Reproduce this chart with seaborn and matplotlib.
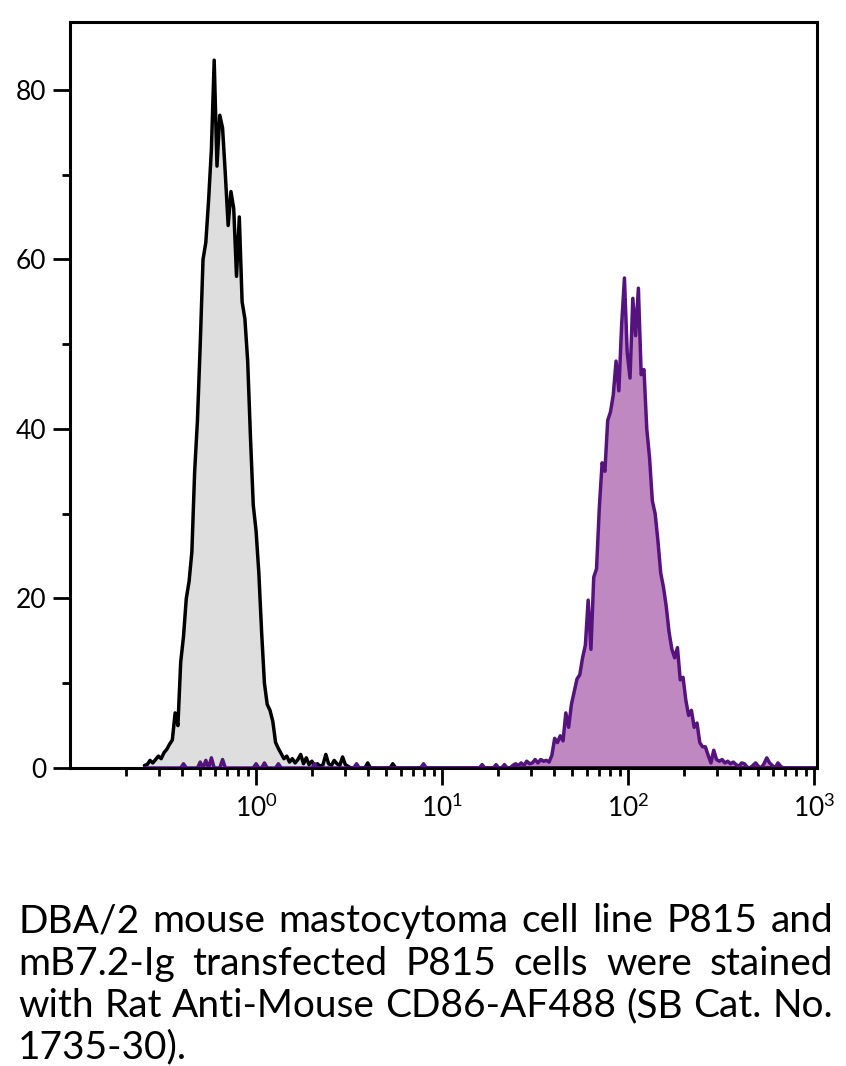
import numpy as np
import matplotlib
matplotlib.use("Agg")
import matplotlib.pyplot as plt
import matplotlib.ticker as mticker
import seaborn as sns

# --------------------------
# Data
# --------------------------

# common log10 grid of the histogram channels
grid_start = -0.60
grid_step = 0.015
grid_len = 242

# unstained / parental P815 (grey), channels from log10 = -0.60
grey_counts = [
    0.3, 0.4, 0.9, 0.6, 1.0, 1.4, 1.1, 1.8, 2.2, 2.8,
    3.3, 6.5, 5.0, 12.5, 15.5, 20.0, 22.0, 25.5, 35.0, 41.0,
    50.0, 60.0, 62.0, 67.0, 73.0, 83.5, 71.0, 77.0, 75.5, 70.0,
    64.0, 68.0, 66.0, 58.0, 65.0, 55.0, 53.0, 48.0, 39.0, 31.0,
    28.0, 23.0, 16.0, 10.0, 7.5, 6.8, 5.5, 3.0, 2.3, 1.7,
    1.1, 1.4, 0.7, 1.1, 0.6, 1.0, 1.6, 0.5, 1.2, 0.4,
    0.8, 0.3, 0.5, 0.2, 0.4, 1.6, 0.5, 0.3, 0.9, 0.5,
    0.3, 1.3, 0.4, 0.2, 0.0,
]
grey_stray = [(3.96, 0.6), (5.46, 0.5)]

# mB7.2-Ig transfected P815 (purple), channels from log10 = 1.305
purple_start = 1.305
purple_counts = [
    0.0, 0.0, 0.4, 0.0, 0.0, 0.3, 0.5, 0.3, 0.6, 0.3,
    0.8, 0.5, 0.6, 1.0, 0.6, 1.0, 0.8, 0.9, 0.7, 1.5,
    3.5, 3.0, 3.8, 3.2, 6.5, 4.8, 7.5, 9.0, 10.5, 11.0,
    13.0, 14.5, 19.8, 14.0, 22.5, 23.5, 30.7, 36.0, 35.0, 41.0,
    42.0, 44.0, 48.0, 44.5, 52.3, 57.8, 49.0, 46.0, 55.4, 51.0,
    56.6, 46.4, 47.0, 40.0, 36.6, 31.5, 30.0, 26.8, 23.0, 21.3,
    19.0, 16.0, 14.0, 13.0, 14.2, 10.4, 10.7, 8.0, 6.2, 6.8,
    4.8, 5.3, 3.0, 2.5, 2.5, 1.5, 0.6, 2.1, 1.0, 0.8,
    1.0, 0.6, 0.8, 0.5, 0.7, 0.4, 0.2, 0.6, 0.5, 0.1,
    0.0, 0.3, 0.6, 0.2, 0.0, 0.5, 1.2, 0.6, 0.3, 0.0,
    0.6, 0.2, 0.0,
]
purple_stray = [
    (0.41, 0.5), (0.50, 0.7), (0.54, 0.9), (0.57, 1.2), (0.65, 1.0),
    (1.00, 0.5), (1.12, 0.6), (1.30, 0.5), (2.08, 0.5), (3.42, 0.5),
    (7.9, 0.5), (16.4, 0.4), (19.2, 0.4),
]

x_major = [1, 10, 100, 1000]
y_major = [0, 20, 40, 60, 80]

caption_lines = [
    "DBA/2 mouse mastocytoma cell line P815 and",
    "mB7.2-Ig transfected P815 cells were stained",
    "with Rat Anti-Mouse CD86-AF488 (SB Cat. No.",
    "1735-30).",
]

# --------------------------
# Build channel arrays
# --------------------------

log_x = grid_start + grid_step * np.arange(grid_len)
x = 10 ** log_x


def to_channels(counts, start, stray):
    y = np.zeros(grid_len)
    i0 = int(round((start - grid_start) / grid_step))
    y[i0:i0 + len(counts)] = counts
    for val, c in stray:
        i = int(round((np.log10(val) - grid_start) / grid_step))
        y[i] = max(y[i], c)
    return y


grey = to_channels(grey_counts, grid_start, grey_stray)
purple = to_channels(purple_counts, purple_start, purple_stray)

# --------------------------
# Figure
# --------------------------

sns.set_style("ticks")
plt.rcParams["font.family"] = ["Lato", "DejaVu Sans"]
plt.rcParams["mathtext.fontset"] = "custom"
plt.rcParams["mathtext.rm"] = "Lato"
plt.rcParams["mathtext.it"] = "Lato:italic"
plt.rcParams["mathtext.bf"] = "Lato:bold"

fig = plt.figure(figsize=(8.46, 10.66), dpi=100)
ax = fig.add_axes([70 / 846, 1 - 768 / 1066, (817 - 70) / 846, (768 - 22) / 1066])

ax.fill_between(x, grey, color="#dedede", lw=0, zorder=1)
sns.lineplot(x=x, y=grey, color="black", lw=2.5, ax=ax, zorder=2)
ax.fill_between(x, purple, color="#bf88c0", lw=0, zorder=1.5)
sns.lineplot(x=x, y=purple, color="#561380", lw=2.5, ax=ax, zorder=2.1)

ax.set_xscale("log")
ax.set_xlim(0.1, 10 ** 3.015)
ax.set_ylim(0, 88)

ax.xaxis.set_major_locator(mticker.FixedLocator(x_major))
ax.xaxis.set_major_formatter(mticker.LogFormatterSciNotation())
minor_x = [m * 10.0 ** e for e in range(-1, 3) for m in range(2, 10)]
ax.xaxis.set_minor_locator(mticker.FixedLocator(minor_x))
ax.xaxis.set_minor_formatter(mticker.NullFormatter())
ax.yaxis.set_major_locator(mticker.FixedLocator(y_major))
ax.yaxis.set_minor_locator(mticker.MultipleLocator(10))

ax.tick_params(which="major", length=12, width=2.0, labelsize=19,
               color="black", labelcolor="black", pad=5)
ax.tick_params(which="minor", length=6, width=2.0, color="black")
ax.tick_params(axis="x", which="major", pad=7)

for s in ax.spines.values():
    s.set_linewidth(2.2)
    s.set_color("black")
    s.set_zorder(3)

ax.set_xlabel("")
ax.set_ylabel("")

# --------------------------
# Justified caption
# --------------------------

renderer = fig.canvas.get_renderer()
cap_size = 28
left_px, right_px = 18, 833
baselines = [932, 975, 1017, 1058]

for k, line in enumerate(caption_lines):
    words = line.split()
    widths = []
    for w in words:
        t = fig.text(0, 0, w, fontsize=cap_size)
        widths.append(t.get_window_extent(renderer).width)
        t.remove()
    if k < len(caption_lines) - 1 and len(words) > 1:
        gap = (right_px - left_px - sum(widths)) / (len(words) - 1)
    else:
        sp = fig.text(0, 0, "a a", fontsize=cap_size)
        aa = fig.text(0, 0, "aa", fontsize=cap_size)
        gap = sp.get_window_extent(renderer).width - aa.get_window_extent(renderer).width
        sp.remove()
        aa.remove()
    xpos = left_px
    for w, wd in zip(words, widths):
        fig.text(xpos / 846, 1 - baselines[k] / 1066, w, fontsize=cap_size,
                 ha="left", va="baseline", color="black")
        xpos += wd + gap

fig.savefig("out.png", dpi=100)
